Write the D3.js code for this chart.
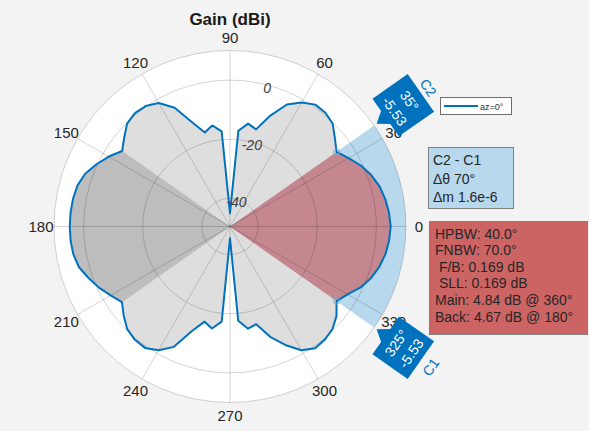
<!DOCTYPE html>
<html>
<head>
<meta charset="utf-8">
<script src="https://cdn.jsdelivr.net/npm/d3@7"></script>
<style>
  body { margin: 0; background: #f3f3f3; }
  svg { display: block; }
  text { font-family: "Liberation Sans", Arial, Helvetica, sans-serif; }
</style>
</head>
<body>
<svg id="chart" width="589" height="431"></svg>
<script>
// Azimuth cut of the antenna gain, sampled every 5 degrees
const azimuths = [
  0, 5, 10, 15, 20, 25, 30, 35, 40, 45, 50, 55, 60, 65, 70, 75, 80, 85,
  90, 95, 100, 105, 110, 115, 120, 125, 130, 135, 140, 145, 150, 155, 160, 165, 170, 175,
  180, 185, 190, 195, 200, 205, 210, 215, 220, 225, 230, 235, 240, 245, 250, 255, 260, 265,
  270, 275, 280, 285, 290, 295, 300, 305, 310, 315, 320, 325, 330, 335, 340, 345, 350, 355
];
const gainDbi = [
  4.84, 4.45, 3.8, 2.85, 1.3, -0.7, -3.2, -5.53, -3.2, -0.4, 0.7, 0.8, -1.1, -4.0, -9.6, -15.5, -14.2, -17.0,
  -45.0, -17.2, -14.8, -16.6, -12.0, -5.2, -1.3, 0.2, 0.5, -0.3, -2.8, -5.0, -2.2, 0.3, 2.6, 3.9, 4.4, 4.6,
  4.67, 4.6, 4.3, 3.4, 1.4, -0.6, -2.9, -4.9, -2.6, -0.4, 0.5, 0.6, -1.2, -4.6, -11.9, -16.2, -14.5, -17.2,
  -45.5, -17.5, -14.4, -15.3, -9.8, -5.3, -1.2, 0.7, 0.4, -0.5, -2.5, -5.53, -3.6, -0.8, 1.3, 2.8, 3.9, 4.5
];

const angleTicks = [0, 30, 60, 90, 120, 150, 180, 210, 240, 270, 300, 330];
const magnitudeTicks = [-40, -20, 0];
const magnitudeLimits = [-49.5, 10];

// Angle-span cursors
const cursorNames = ["C1", "C2"];
const cursorAngles = [325, 35];
const cursorValues = [-5.53, -5.53];

// Lobe regions (first-null boundaries)
const mainLobeSpan = [-35, 35];
const backLobeSpan = [145, 215];

const spanLines = ["C2 - C1", "\u0394\u03b8 70\u00b0", "\u0394m 1.6e-6"];
const lobeLines = [
  "HPBW: 40.0\u00b0",
  "FNBW: 70.0\u00b0",
  " F/B: 0.169 dB",
  " SLL: 0.169 dB",
  "Main: 4.84 dB @ 360\u00b0",
  "Back: 4.67 dB @ 180\u00b0"
];
const chartTitle = "Gain (dBi)";
const legendLabel = "az=0\u00b0";

// ---- layout ----
const svg = d3.select("#chart");
const cx = 230, cy = 226.5, R = 176;
const blue = "#0072BD";

svg.append("rect").attr("width", 589).attr("height", 431).attr("fill", "#f3f3f3");

const r = d3.scaleLinear().domain(magnitudeLimits).range([0, R]);
// compass degrees (CCW from east) -> d3 radial angle (CW from north, radians)
const toRad = d3.scaleLinear().domain([0, 360]).range([Math.PI / 2, Math.PI / 2 - 2 * Math.PI]);

const pts = azimuths.map((a, i) => ({ a, g: gainDbi[i] }));

const g = svg.append("g").attr("transform", `translate(${cx},${cy})`);

// plot disc
g.append("circle").attr("r", R).attr("fill", "#ffffff");

// cursor span wedge
const spanArc = d3.arc()
  .innerRadius(0).outerRadius(R)
  .startAngle(toRad(cursorAngles[1])).endAngle(toRad(cursorAngles[0] - 360));
g.append("path").attr("d", spanArc()).attr("fill", "#b8d8ee");

// full pattern fill
const area = d3.areaRadial()
  .angle(d => toRad(d.a))
  .innerRadius(0)
  .outerRadius(d => r(d.g))
  .curve(d3.curveLinear);

const closed = pts.concat([{ a: 360, g: gainDbi[0] }]);
g.append("path").attr("d", area(closed)).attr("fill", "#dedede");

// back lobe
const backPts = pts.filter(d => d.a >= backLobeSpan[0] && d.a <= backLobeSpan[1]);
g.append("path").attr("d", area(backPts)).attr("fill", "#bdbdbd");

// main lobe
const mainPts = pts
  .map(d => ({ a: d.a > 180 ? d.a - 360 : d.a, g: d.g }))
  .filter(d => d.a >= mainLobeSpan[0] && d.a <= mainLobeSpan[1])
  .sort((p, q) => p.a - q.a);
g.append("path").attr("d", area(mainPts)).attr("fill", "#c4878f");

// grid
const grid = g.append("g").attr("fill", "none").attr("stroke", "rgba(0,0,0,0.17)").attr("stroke-width", 1);
magnitudeTicks.concat([magnitudeLimits[1]]).forEach(m => {
  grid.append("circle").attr("r", r(m));
});
angleTicks.forEach(a => {
  const t = a * Math.PI / 180;
  grid.append("line")
    .attr("x1", 0).attr("y1", 0)
    .attr("x2", R * Math.cos(t)).attr("y2", -R * Math.sin(t));
});

// pattern line
const line = d3.lineRadial()
  .angle(d => toRad(d.a))
  .radius(d => r(d.g))
  .curve(d3.curveLinearClosed);
g.append("path").attr("d", line(pts))
  .attr("fill", "none").attr("stroke", blue).attr("stroke-width", 2).attr("stroke-linejoin", "round");

// cursor points
cursorAngles.forEach((a, i) => {
  const t = a * Math.PI / 180, rr = r(cursorValues[i]);
  g.append("circle")
    .attr("cx", rr * Math.cos(t)).attr("cy", -rr * Math.sin(t)).attr("r", 3)
    .attr("fill", "none").attr("stroke", "#7fb0d8").attr("stroke-width", 1);
});

// magnitude tick labels
magnitudeTicks.forEach(m => {
  const t = 75 * Math.PI / 180, rr = r(m) - 3;
  g.append("text")
    .attr("x", rr * Math.cos(t)).attr("y", -rr * Math.sin(t))
    .attr("text-anchor", "middle").attr("dominant-baseline", "central")
    .attr("font-size", 14).attr("font-style", "italic").attr("fill", "#404040")
    .text(m);
});

// angle tick labels
angleTicks.forEach(a => {
  const t = a * Math.PI / 180, rr = R + 13;
  g.append("text")
    .attr("x", rr * Math.cos(t)).attr("y", -rr * Math.sin(t))
    .attr("text-anchor", "middle").attr("dominant-baseline", "central")
    .attr("font-size", 15).attr("fill", "#262626")
    .text(a);
});

// cursor tags
cursorAngles.forEach((a, i) => {
  const s = a > 180 ? a - 360 : a;
  const t = s * Math.PI / 180, rr = R + 3;
  const upper = s > 0;
  const rot = upper ? 90 - s : -90 - s;
  const tag = g.append("g")
    .attr("transform", `translate(${rr * Math.cos(t)},${-rr * Math.sin(t)}) rotate(${rot})`);
  const k = upper ? -1 : 1;
  const shape = [[0, 0], [-8, 11 * k], [-23, 11 * k], [-23, 54 * k], [23, 54 * k], [23, 11 * k], [8, 11 * k]];
  tag.append("path").attr("d", d3.line()(shape) + "Z").attr("fill", blue);
  const l1 = `${a}\u00b0`, l2 = cursorValues[i].toFixed(2);
  const y1 = upper ? -35 : 29, y2 = upper ? -17 : 47;
  tag.append("text").attr("x", 0).attr("y", y1).attr("text-anchor", "middle")
    .attr("font-size", 14).attr("fill", "#ffffff").text(l1);
  tag.append("text").attr("x", 0).attr("y", y2).attr("text-anchor", "middle")
    .attr("font-size", 14).attr("fill", "#ffffff").text(l2);
  tag.append("text").attr("x", 0).attr("y", upper ? -58 : 71).attr("text-anchor", "middle")
    .attr("font-size", 14).attr("fill", blue).text(cursorNames[i]);
});

// title
svg.append("text").attr("x", cx).attr("y", 25).attr("text-anchor", "middle")
  .attr("font-size", 17).attr("font-weight", "bold").attr("fill", "#1a1a1a").text(chartTitle);

// legend
const lg = svg.append("g");
lg.append("rect").attr("x", 440.5).attr("y", 97.5).attr("width", 71).attr("height", 17)
  .attr("fill", "#ffffff").attr("stroke", "#6e6e6e").attr("stroke-width", 1);
lg.append("line").attr("x1", 444).attr("x2", 478).attr("y1", 106).attr("y2", 106)
  .attr("stroke", blue).attr("stroke-width", 2);
lg.append("text").attr("x", 480).attr("y", 109.5).attr("font-size", 9).attr("fill", "#333")
  .text(legendLabel);

// span readout box
const b1 = svg.append("g");
b1.append("rect").attr("x", 428.5).attr("y", 147.5).attr("width", 85).attr("height", 61)
  .attr("fill", "#b8d8ee").attr("stroke", "#7f7f7f");
spanLines.forEach((s, i) => {
  b1.append("text").attr("x", 433).attr("y", 165 + i * 18.5)
    .attr("font-size", 14).attr("fill", "#262626").text(s);
});

// lobe readout box
const b2 = svg.append("g");
b2.append("rect").attr("x", 429.5).attr("y", 221.5).attr("width", 158).attr("height", 113)
  .attr("fill", "#cd6464").attr("stroke", "#7f7f7f");
lobeLines.forEach((s, i) => {
  b2.append("text").attr("x", 435).attr("y", 238.5 + i * 16.6)
    .attr("font-size", 14).attr("fill", "#262626").style("white-space", "pre").text(s);
});
</script>
</body>
</html>
